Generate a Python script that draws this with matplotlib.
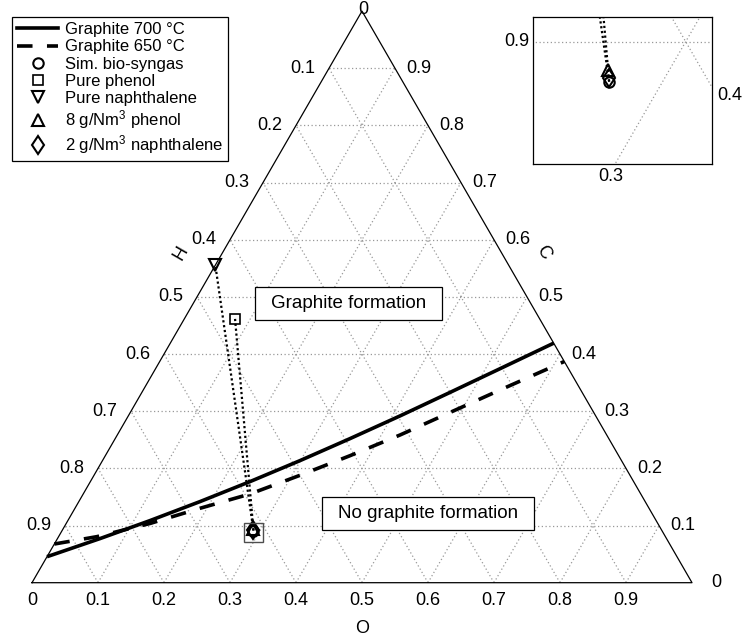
import numpy as np
import matplotlib
matplotlib.use("Agg")
import matplotlib.pyplot as plt
from matplotlib.lines import Line2D
from matplotlib.patches import Rectangle

plt.rcParams['font.family'] = ['Liberation Sans', 'DejaVu Sans']
plt.rcParams['mathtext.fontset'] = 'custom'
plt.rcParams['mathtext.rm'] = 'Liberation Sans'
plt.rcParams['mathtext.it'] = 'Liberation Sans'

# ---------------- data (atomic fractions: O and C; H = 1 - O - C) ----------------
g700_O = [0.0000, 0.0645, 0.1245, 0.1836, 0.2419, 0.2993, 0.3558, 0.4117, 0.4669, 0.5219, 0.5810]
g700_C = [0.0455, 0.0772, 0.1087, 0.1419, 0.1769, 0.2136, 0.2521, 0.2918, 0.3329, 0.3744, 0.4192]

g650_O = [0.0000, 0.0578, 0.1270, 0.1895, 0.2527, 0.3121, 0.3707, 0.4284, 0.4844, 0.5405, 0.6130]
g650_C = [0.0677, 0.0805, 0.1036, 0.1302, 0.1552, 0.1879, 0.2222, 0.2584, 0.2978, 0.3371, 0.3870]

point_names = ['Sim. bio-syngas', 'Pure phenol', 'Pure naphthalene',
               '8 g/Nm$^3$ phenol', '2 g/Nm$^3$ naphthalene']
point_O = [0.2899, 0.0769, 0.0000, 0.2885, 0.2895]
point_C = [0.0913, 0.4615, 0.5556, 0.0938, 0.0920]

tick_values = [0.0, 0.1, 0.2, 0.3, 0.4, 0.5, 0.6, 0.7, 0.8, 0.9]
tick_labels = ['0', '0.1', '0.2', '0.3', '0.4', '0.5', '0.6', '0.7', '0.8', '0.9']
grid_values = [0.1, 0.2, 0.3, 0.4, 0.5, 0.6, 0.7, 0.8, 0.9]

S3 = np.sqrt(3) / 2


def tern(O, C):
    O = np.asarray(O, float)
    C = np.asarray(C, float)
    return O + C / 2.0, C * S3


PX = 1 / 660.0  # one pixel in data units of the main axes

fig = plt.figure(figsize=(7.42, 6.39), dpi=100)
ax = fig.add_axes([0, 0, 1, 1])
ax.set_xlim(-32 * PX, 710 * PX)
ax.set_ylim((582.7 - 639) * PX, 582.7 * PX)
ax.axis('off')

grid_kw = dict(color='0.6', lw=0.9, ls=(0, (1, 2)), zorder=1)


def draw_grid(a):
    for v in grid_values:
        x, y = tern([0, 1 - v], [v, v])
        a.plot(x, y, **grid_kw)
        x, y = tern([v, v], [0, 1 - v])
        a.plot(x, y, **grid_kw)
        x, y = tern([1 - v, 0], [0, 1 - v])
        a.plot(x, y, **grid_kw)


draw_grid(ax)
bx, by = tern([0, 1, 0, 0], [0, 0, 1, 0])
ax.plot(bx, by, color='black', lw=0.9, zorder=2)

# tick labels
fs_tick = 13
for v, lab in zip(tick_values, tick_labels):
    x, y = tern(v, 0)
    ax.text(x, y - 17.5 * PX, lab, ha='center', va='center', fontsize=fs_tick)
    x, y = tern(1 - v, v)
    ax.text(x + 24 * PX, y, lab, ha='center', va='center', fontsize=fs_tick)
    if v > 0:
        x, y = tern(0, 1 - v)
        ax.text(x - 26 * PX, y, lab, ha='center', va='center', fontsize=fs_tick)
ax.text(0.5 + 1 * PX, (582.7 - 9) * PX, '0', ha='center', va='center', fontsize=fs_tick, zorder=8)

# axis titles
ax.text(0.5, -45.5 * PX, 'O', ha='center', va='center', fontsize=fs_tick)
ax.text(0.225, 0.5, 'H', ha='center', va='center', fontsize=fs_tick, rotation=60)
ax.text(0.775, 0.5, 'C', ha='center', va='center', fontsize=fs_tick, rotation=-60)

# graphite boundaries
x, y = tern(g700_O, g700_C)
ax.plot(x, y, color='black', lw=2.6, solid_capstyle='butt', zorder=4)
x, y = tern(g650_O, g650_C)
ax.plot(x, y, color='black', lw=2.6, ls=(0, (4.3, 4.0)), dash_capstyle='butt', zorder=4)

markers = ['o', 's', 'v', '^', 'd']
msizes = [7.5, 6.5, 8.5, 8.5, 9.5]
mews = [1.5, 1.2, 1.5, 1.5, 1.5]


def draw_points(a):
    for k in (1, 2):
        x, y = tern([point_O[0], point_O[k]], [point_C[0], point_C[k]])
        a.plot(x, y, color='black', lw=1.6, ls=(0, (1, 1.2)), zorder=3)
    for k in range(len(point_names)):
        x, y = tern(point_O[k], point_C[k])
        a.plot([x], [y], ls='none', marker=markers[k], ms=msizes[k], mfc='none',
               mec='black', mew=mews[k], zorder=5)


draw_points(ax)

# zoom window indicator
ax.add_patch(Rectangle((0.3205, 0.0615), 0.0300, 0.0290, fill=False, ec='0.3', lw=1.0, zorder=5))

# region labels
ax.add_patch(Rectangle((0.3379, 0.3980), 0.2829, 0.0496, fc='white', ec='black', lw=0.9, zorder=6))
ax.text(0.4794, 0.4228, 'Graphite formation', ha='center', va='center', fontsize=13.5, zorder=7)
ax.add_patch(Rectangle((0.4389, 0.0798), 0.3217, 0.0496, fc='white', ec='black', lw=0.9, zorder=6))
ax.text(0.5997, 0.1046, 'No graphite formation', ha='center', va='center', fontsize=13.5, zorder=7)

# legend
handles = [Line2D([], [], color='black', lw=2.6),
           Line2D([], [], color='black', lw=2.6, ls=(0, (4.3, 4.0)))]
for k in range(len(point_names)):
    handles.append(Line2D([], [], ls='none', marker=markers[k], ms=msizes[k], mfc='none',
                          mec='black', mew=mews[k]))
labels = ['Graphite 700 \u00b0C', 'Graphite 650 \u00b0C'] + point_names
leg = ax.legend(handles, labels, loc='upper left', bbox_to_anchor=(12.3 / 742, 1 - 17.3 / 639),
                bbox_transform=fig.transFigure, fontsize=12, frameon=True, fancybox=False,
                edgecolor='black', framealpha=1, borderaxespad=0, borderpad=0.3,
                handlelength=2.45, handletextpad=0.4, labelspacing=0.13)
leg.get_frame().set_linewidth(0.9)

# inset
ins = fig.add_axes([532.7 / 742, 1 - 164 / 639, 179.6 / 742, 146.7 / 639])
ins.set_xlim(0.32113, 0.35502)
ins.set_ylim(0.06352, 0.09120)
ins.set_xticks([])
ins.set_yticks([])
for sp in ins.spines.values():
    sp.set_linewidth(0.9)
draw_grid(ins)
draw_points(ins)
ins.text(-0.02, 0.834, '0.9', transform=ins.transAxes, ha='right', va='center', fontsize=fs_tick)
ins.text(0.435, -0.085, '0.3', transform=ins.transAxes, ha='center', va='center', fontsize=fs_tick)
ins.text(1.025, 0.47, '0.4', transform=ins.transAxes, ha='left', va='center', fontsize=fs_tick)

fig.savefig('out.png', dpi=100)
